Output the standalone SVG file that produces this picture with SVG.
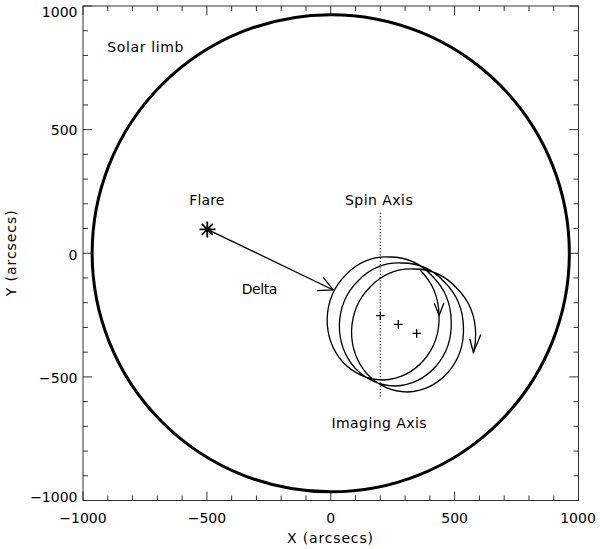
<svg xmlns="http://www.w3.org/2000/svg" width="600" height="549" viewBox="0 0 600 549">
<style>
text{font-family:"DejaVu Sans","Liberation Sans",sans-serif;font-size:14px;fill:#000}
.ax{stroke:#333;stroke-width:1;fill:none}
.tk{stroke:#333;stroke-width:1}
.ln{stroke:#000;stroke-width:1.3;fill:none}
.lab{text-anchor:end}
.mid{text-anchor:middle}
</style>
<rect width="600" height="549" fill="#fff"/>
<g id="axes">
<rect class="ax" x="83" y="6" width="495.5" height="494.5"/>
<path class="tk" d="M83,500.5v-9M107.78,500.5v-5M132.55,500.5v-5M157.33,500.5v-5M182.1,500.5v-5M206.88,500.5v-9M231.65,500.5v-5M256.43,500.5v-5M281.2,500.5v-5M305.98,500.5v-5M330.75,500.5v-9M355.53,500.5v-5M380.3,500.5v-5M405.08,500.5v-5M429.85,500.5v-5M454.63,500.5v-9M479.4,500.5v-5M504.18,500.5v-5M528.95,500.5v-5M553.73,500.5v-5M578.5,500.5v-9"/>
<path class="tk" d="M83,6v9M107.78,6v5M132.55,6v5M157.33,6v5M182.1,6v5M206.88,6v9M231.65,6v5M256.43,6v5M281.2,6v5M305.98,6v5M330.75,6v9M355.53,6v5M380.3,6v5M405.08,6v5M429.85,6v5M454.63,6v9M479.4,6v5M504.18,6v5M528.95,6v5M553.73,6v5M578.5,6v9"/>
<path class="tk" d="M83,6h9M83,30.73h5M83,55.45h5M83,80.18h5M83,104.9h5M83,129.63h9M83,154.35h5M83,179.08h5M83,203.8h5M83,228.53h5M83,253.25h9M83,277.98h5M83,302.7h5M83,327.43h5M83,352.15h5M83,376.88h9M83,401.6h5M83,426.33h5M83,451.05h5M83,475.78h5M83,500.5h9"/>
<path class="tk" d="M578.5,6h-9M578.5,30.73h-5M578.5,55.45h-5M578.5,80.18h-5M578.5,104.9h-5M578.5,129.63h-9M578.5,154.35h-5M578.5,179.08h-5M578.5,203.8h-5M578.5,228.53h-5M578.5,253.25h-9M578.5,277.98h-5M578.5,302.7h-5M578.5,327.43h-5M578.5,352.15h-5M578.5,376.88h-9M578.5,401.6h-5M578.5,426.33h-5M578.5,451.05h-5M578.5,475.78h-5M578.5,500.5h-9"/>
<text class="lab" x="77.5" y="17.3">1000</text>
<text class="lab" x="77.5" y="135">500</text>
<text class="lab" x="77.5" y="260">0</text>
<text class="lab" x="77.5" y="383.3">−500</text>
<text class="lab" x="77.5" y="501.7">−1000</text>
<text class="mid" x="83" y="523.3">−1000</text>
<text class="mid" x="206.9" y="523.3">−500</text>
<text class="mid" x="330.75" y="523.3">0</text>
<text class="mid" x="454.6" y="523.3">500</text>
<text class="mid" x="578" y="523.3">1000</text>
<text class="mid" x="330" y="543.3" textLength="86" lengthAdjust="spacing">X (arcsecs)</text>
<text class="mid" transform="translate(15.5,253.3) rotate(-90)" textLength="86" lengthAdjust="spacing">Y (arcsecs)</text>
</g>
<g id="solar-limb">
<circle cx="330.75" cy="253.25" r="238.6" fill="none" stroke="#000" stroke-width="3"/>
<text x="107.3" y="51.7" textLength="76" lengthAdjust="spacing">Solar limb</text>
</g>
<g id="flare">
<path stroke="#000" stroke-width="1.8" d="M199.5,229.3h16M207.3,221.5v16M201.8,223.8l11,11M201.8,234.8l11,-11"/>
<text x="189.3" y="205" textLength="35" lengthAdjust="spacing">Flare</text>
</g>
<g id="spin-axis">
<line x1="380.3" y1="213" x2="380.3" y2="398" stroke="#000" stroke-width="1.2" stroke-dasharray="1 2.2"/>
<text x="345" y="205" textLength="67.7" lengthAdjust="spacing">Spin Axis</text>
</g>
<g id="imaging-axis">
<path class="ln" d="M420.25,270.2 A59,63 0 0 1 439.05,315.5 A59,63 0 0 1 423.3,360.8 A59,63 0 0 1 383.1,380 A59,63 0 0 1 342.91,362.3 A59,63 0 0 1 327.15,318.5 A59,63 0 0 1 345.96,274.7 A59,63 0 0 1 389.2,257 A59,63 0 0 1 432.45,276.2 A59,63 0 0 1 451.25,321.5 A59,63 0 0 1 435.5,366.8 A59,63 0 0 1 395.3,386 A59,63 0 0 1 355.11,368.3 A59,63 0 0 1 339.35,324.5 A59,63 0 0 1 358.16,280.7 A59,63 0 0 1 401.4,263 A59,63 0 0 1 444.65,282.2 A59,63 0 0 1 463.45,327.5 A59,63 0 0 1 447.7,372.8 A59,63 0 0 1 407.5,392 A59,63 0 0 1 367.31,374.3 A59,63 0 0 1 351.55,330.5 A59,63 0 0 1 370.36,286.7 A59,63 0 0 1 413.6,269 A59,63 0 0 1 456.85,288.2 A59,63 0 0 1 475.65,333.5 A59,63 0 0 1 473.4,353"/>
<path class="ln" d="M434.3,303.3L439.1,315.5L444,302.7"/>
<path class="ln" d="M469.8,339L473.4,352.5L480.8,334.5"/>
<path class="ln" d="M376,315.7h8.6M380.3,311.4v8.6M394,324.4h8.6M398.3,320.1v8.6M412.4,333.4h8.6M416.7,329.1v8.6"/>
<text x="331.5" y="428" textLength="95" lengthAdjust="spacing">Imaging Axis</text>
</g>
<g id="connectors">
<path class="ln" d="M207.3,229.3L333.3,290"/>
<path class="ln" d="M317,290.7L333.3,290L323.3,277.3"/>
<text x="241.7" y="294" textLength="35.6" lengthAdjust="spacing">Delta</text>
</g>
</svg>
